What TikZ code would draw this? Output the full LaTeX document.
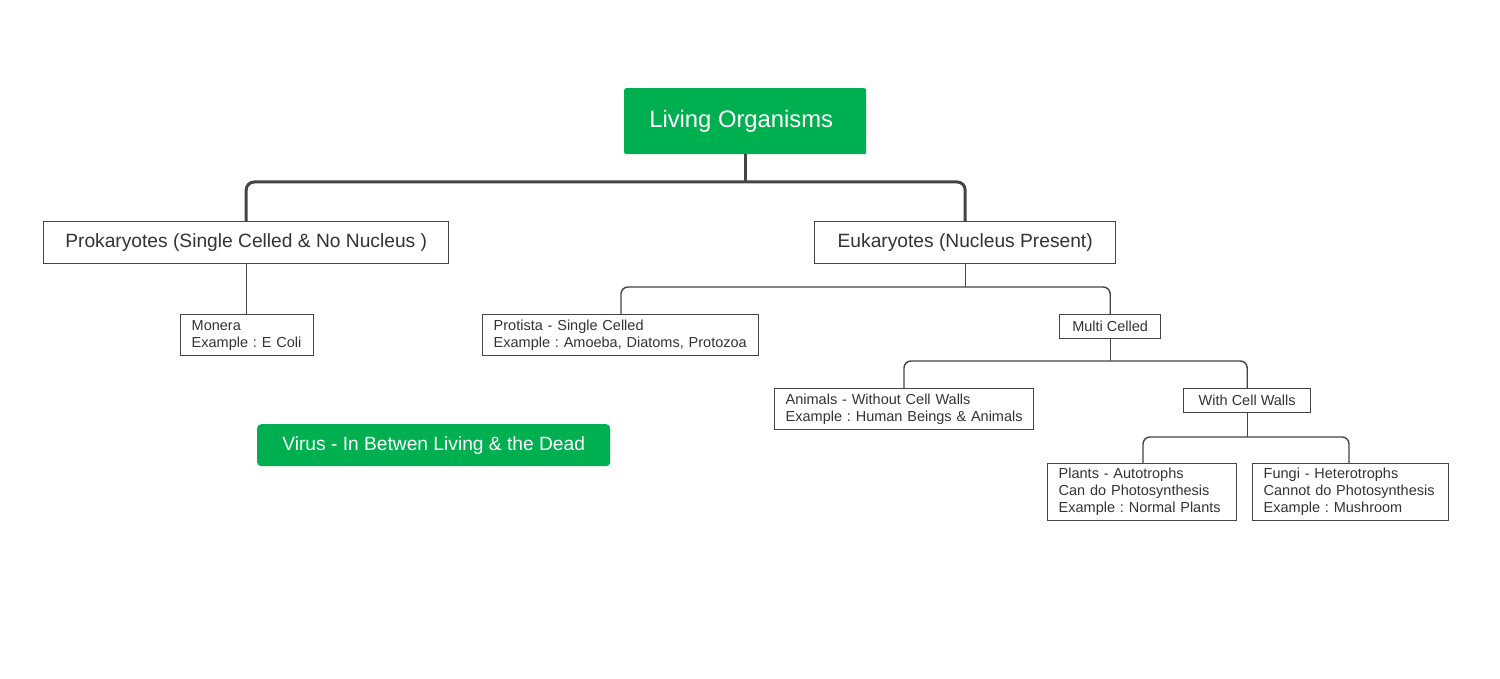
\documentclass[tikz,border=0pt]{standalone}
\usepackage{fontspec}
\setmainfont{Liberation Sans}
\definecolor{lgreen}{HTML}{00B050}
\definecolor{ink}{HTML}{333333}
\definecolor{edge}{HTML}{444444}
\hbadness=10000 \hfuzz=200pt
\begin{document}
\frenchspacing
\begin{tikzpicture}[x=1pt,y=-1pt,
  box/.style={draw=edge, line width=1.4pt, fill=white, text=ink, inner xsep=11pt, inner ysep=0pt, anchor=north west, align=left, font=\fontsize{14.5}{17}\selectfont},
  cbox/.style={draw=edge, line width=1.4pt, fill=white, text=ink, inner sep=0pt, anchor=north west, align=center, font=\fontsize{14.5}{17}\selectfont},
  bigbox/.style={draw=edge, line width=1.4pt, fill=white, text=ink, inner sep=0pt, anchor=north west, align=center, font=\fontsize{19.2}{22}\selectfont},
  gbox/.style={fill=lgreen, text=white, inner sep=0pt, anchor=north west, align=center, rounded corners=2pt},
  thick conn/.style={draw=edge, line width=3pt, rounded corners=8pt},
  conn/.style={draw=edge, line width=1.4pt, rounded corners=7pt}
]
\useasboundingbox (0,0) rectangle (1500,679);
% nodes
\node[gbox, minimum width=242pt, minimum height=66pt, font=\fontsize{23.8}{27}\selectfont] (lo) at (624,88) {Living Organisms\hspace*{8pt}};
\node[bigbox, minimum width=405pt, minimum height=42pt] (pro) at (43,221) {Prokaryotes (Single Celled \& No Nucleus )};
\node[bigbox, minimum width=301pt, minimum height=42pt] (eu) at (814,221) {Eukaryotes (Nucleus Present)};
\node[box, minimum width=133pt, text width=111pt, minimum height=41pt] (mon) at (180,314) {\mbox{Monera}\\\mbox{Example : E Coli}};
\node[box, minimum width=276pt, text width=254pt, minimum height=41pt] (prot) at (482,314) {\mbox{Protista - Single Celled}\\\mbox{Example : Amoeba, Diatoms, Protozoa}};
\node[cbox, minimum width=101pt, minimum height=24pt] (mc) at (1059,314) {Multi Celled};
\node[box, minimum width=259pt, text width=237pt, minimum height=41pt] (ani) at (774,388) {\mbox{Animals - Without Cell Walls}\\\mbox{Example : Human Beings \& Animals}};
\node[cbox, minimum width=127pt, minimum height=24pt] (wcw) at (1183,388) {With Cell Walls};
\node[box, minimum width=189pt, text width=167pt, minimum height=57pt] (pla) at (1047,463) {\mbox{Plants - Autotrophs}\\\mbox{Can do Photosynthesis}\\\mbox{Example : Normal Plants}};
\node[box, minimum width=196pt, text width=174pt, minimum height=57pt] (fun) at (1252,463) {\mbox{Fungi - Heterotrophs}\\\mbox{Cannot do Photosynthesis}\\\mbox{Example : Mushroom}};
\node[gbox, rounded corners=4pt, minimum width=353pt, minimum height=42pt, font=\fontsize{19.2}{22}\selectfont] (vir) at (257,424) {Virus - In Betwen Living \& the Dead};
% junctions
\coordinate (j1) at (lo.south |- 0,182);
\coordinate (j2) at (eu.south |- 0,287);
\coordinate (j3) at (mc.south |- 0,361);
\coordinate (j4) at (wcw.south |- 0,437);
% connectors
\draw[thick conn] (lo.south) -- (j1);
\draw[thick conn] (pro.north) |- (j1) -| (eu.north);
\draw[conn] (pro.south) -- (pro.south |- mon.north);
\draw[conn] (eu.south) -- (j2);
\draw[conn] (prot.north -| 621,0) |- (j2) -| (mc.north);
\draw[conn] (mc.south) -- (j3);
\draw[conn] (ani.north -| 904,0) |- (j3) -| (wcw.north);
\draw[conn] (wcw.south) -- (j4);
\draw[conn] (pla.north -| 1143,0) |- (j4) -| (fun.north -| 1349,0);
\end{tikzpicture}
\end{document}
